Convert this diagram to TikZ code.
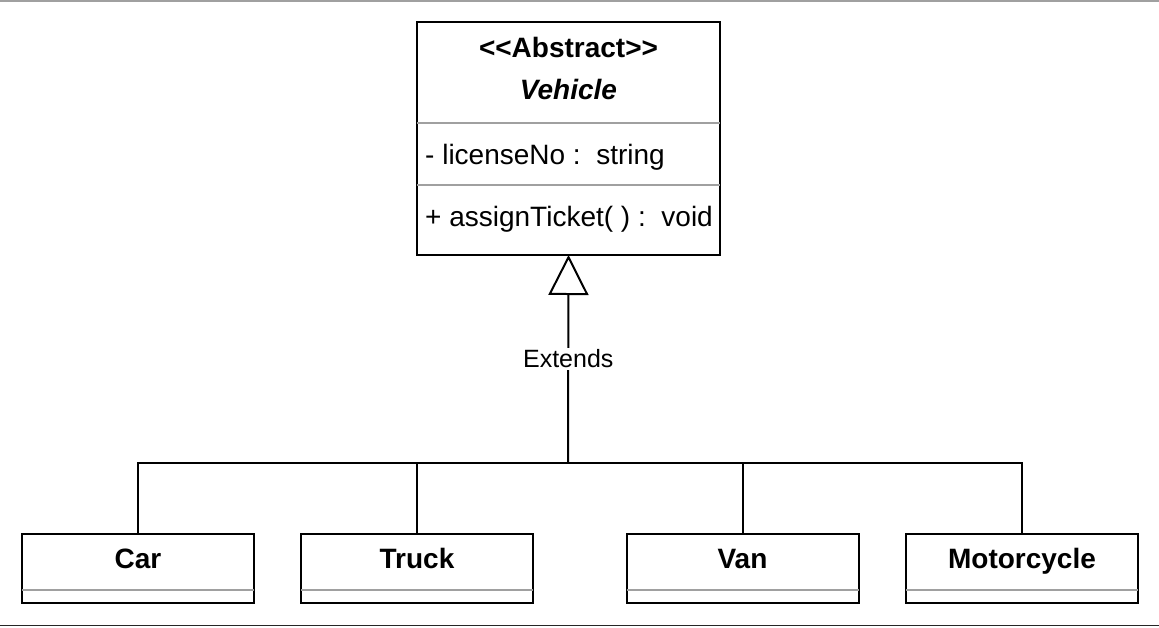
\documentclass[tikz,border=0pt]{standalone}
\usepackage{fontspec}
\setmainfont{Liberation Sans}
\usepackage{xcolor}
\usetikzlibrary{arrows.meta}
\definecolor{divgray}{RGB}{160,160,160}
\newcommand{\umlfont}{\fontsize{28}{33}\selectfont}
\newcommand{\lblfont}{\fontsize{25}{30}\selectfont}
\tikzset{
  clsbox/.style={draw,line width=2,inner sep=0,outer sep=0},
  subbox/.style={clsbox,minimum width=232,minimum height=69},
  clsname/.style={font=\umlfont\bfseries,inner sep=0,anchor=base},
  member/.style={font=\umlfont,anchor=base west,inner sep=0},
  divider/.style={divgray,line width=2},
  conn/.style={line width=2},
}
\newcommand{\subcls}[3]{%
  \node[subbox] (#1) at (#2,-568.5) {};
  \node[clsname] (#1-name) at ([yshift=-34]#1.north) {#3};
  \draw[divider] ([yshift=-56]#1.north west) -- ([yshift=-56]#1.north east);}

\begin{document}
\begin{tikzpicture}[x=1pt,y=1pt]
  \useasboundingbox (0,0) rectangle (1159,-627);
  \draw[divgray,line width=1.5] (0,-1) -- (1159,-1);
  \draw[black!85,line width=1.5] (0,-625.5) -- (1159,-625.5);
  % abstract class
  \node[clsbox,minimum width=303,minimum height=233] (vehicle) at (568.5,-138.5) {};
  \node[clsname] (stereo) at ([yshift=-35]vehicle.north) {<\kern0pt<Abstract>\kern0pt>};
  \node[clsname,font=\umlfont\bfseries\itshape] (vname) at ([yshift=-77]vehicle.north) {Vehicle};
  \draw[divider] ([yshift=-101]vehicle.north west) -- ([yshift=-101]vehicle.north east);
  \draw[divider] ([yshift=-163]vehicle.north west) -- ([yshift=-163]vehicle.north east);
  \node[member] (attr) at (425,-164) {- licenseNo :\ \ string};
  \node[member] (meth) at (425,-226) {+ assignTicket( ) :\ \ void};
  % subclasses
  \subcls{car}{138}{Car}
  \subcls{truck}{417}{Truck}
  \subcls{van}{742.5}{Van}
  \subcls{moto}{1022}{Motorcycle}
  \coordinate (bus) at (568,-463);
  \draw[conn] (car.north) |- (moto.north |- bus) -- (moto.north);
  \draw[conn] (truck.north) -- (truck.north |- bus);
  \draw[conn] (van.north) -- (van.north |- bus);
  \draw[conn,-{Triangle[open,length=40,width=40,line width=2]}] (bus) --
    node[fill=white,font=\lblfont,inner sep=2] (ext) {Extends} (vehicle.south);
\end{tikzpicture}
\end{document}
